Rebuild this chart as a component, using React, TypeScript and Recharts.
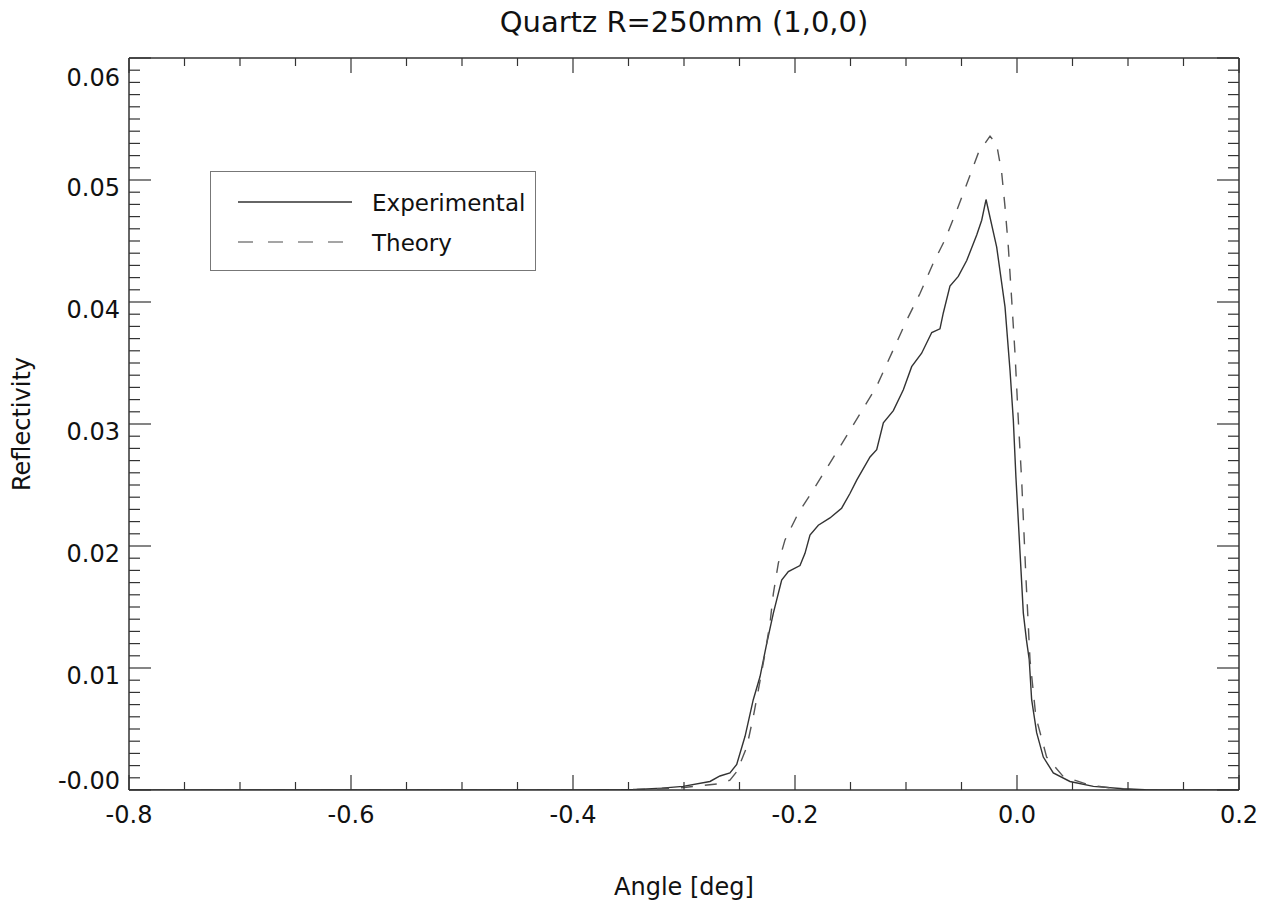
import { LineChart, Line, XAxis, YAxis } from 'recharts';

// Experimental reflectivity curve (angle in deg, reflectivity)
const expAngle = [
  -0.8, -0.5, -0.4, -0.36, -0.3426, -0.32, -0.3009, -0.2766, -0.2676, -0.2586, -0.2525, -0.245,
  -0.2376, -0.2315, -0.2255, -0.2195, -0.212, -0.206, -0.1955, -0.191, -0.1865, -0.179, -0.1685,
  -0.158, -0.1505, -0.1444, -0.1324, -0.1264, -0.1204, -0.1114, -0.1024, -0.0949, -0.0859, -0.0768,
  -0.0694, -0.0664, -0.0604, -0.0529, -0.0453, -0.0363, -0.0318, -0.0279, -0.0183, -0.0108, -0.0063,
  -0.0033, -0.001, 0.0057, 0.0085, 0.011, 0.0132, 0.0177, 0.0237, 0.0327, 0.0477, 0.0688, 0.0958,
  0.12, 0.2,
];
const expRefl = [
  0, 0, 0, 0.00002, 0.00005, 0.00015, 0.0003, 0.0007, 0.00115, 0.0014, 0.0021, 0.0044,
  0.0074, 0.0093, 0.012, 0.0145, 0.0172, 0.0179, 0.0184, 0.0194, 0.0209, 0.0217, 0.0223,
  0.0231, 0.0243, 0.0254, 0.0273, 0.0279, 0.0301, 0.0311, 0.0328, 0.0347, 0.0358, 0.0375,
  0.0378, 0.0391, 0.0413, 0.0421, 0.0434, 0.0455, 0.0467, 0.0484, 0.0445, 0.0396, 0.0344,
  0.0303, 0.0257, 0.0145, 0.0123, 0.0107, 0.0074, 0.0047, 0.0027, 0.0014, 0.0007, 0.0003, 0.0001,
  0, 0,
];

// Theory curve
const theoryAngle = [
  -0.8, -0.36, -0.33, -0.3, -0.2856, -0.27, -0.2586, -0.2525, -0.2435, -0.2376, -0.233, -0.227,
  -0.2225, -0.2195, -0.215, -0.209, -0.197, -0.1835, -0.155, -0.1264, -0.1114, -0.0994, -0.0874,
  -0.0754, -0.0649, -0.0543, -0.0439, -0.0349, -0.0243, -0.0183, -0.0138, -0.0108, -0.0078, -0.0048,
  -0.0018, 0.0012, 0.0042, 0.008, 0.0117, 0.017, 0.0267, 0.0417, 0.0658, 0.0898, 0.11, 0.2,
];
const theoryRefl = [
  0, 0, 0.00008, 0.0002, 0.00035, 0.0005, 0.0008, 0.0015, 0.0035, 0.006, 0.0082, 0.0112,
  0.0137, 0.0161, 0.0186, 0.0205, 0.0227, 0.0246, 0.0288, 0.0331, 0.0361, 0.0385, 0.0407,
  0.0432, 0.0451, 0.0475, 0.05, 0.0522, 0.0536, 0.0529, 0.0506, 0.0478, 0.0445, 0.0402,
  0.0358, 0.0303, 0.0254, 0.0175, 0.0107, 0.006, 0.0027, 0.0011, 0.0004, 0.0001, 0, 0,
];

const yTickLabels = ['-0.00', '0.01', '0.02', '0.03', '0.04', '0.05', '0.06'];
const xTickLabels = ['-0.8', '-0.6', '-0.4', '-0.2', '0.0', '0.2'];

const expData = expAngle.map((a, i) => ({ angle: a, value: expRefl[i] }));
const theoryData = theoryAngle.map((a, i) => ({ angle: a, value: theoryRefl[i] }));

// minor ticks: 0.001 on y, 0.05 on x
const yTicks = Array.from({ length: 61 }, (_, i) => i / 1000);
const xTicks = Array.from({ length: 21 }, (_, i) => -0.8 + i * 0.05);

const FONT = '"DejaVu Sans", sans-serif';
const AXIS = '#333';

const isMajorY = (v: number) => Math.abs(v * 100 - Math.round(v * 100)) < 1e-6;
const isMajorX = (v: number) => Math.abs((v + 0.8) * 5 - Math.round((v + 0.8) * 5)) < 1e-6;

function LeftTick(props: any) {
  const { x, y, payload } = props;
  const v = payload.value;
  const major = isMajorY(v);
  const idx = Math.round(v * 100);
  let dy = 8;
  if (idx === 6) dy = 20;
  if (idx === 0) dy = -9;
  return (
    <g>
      <line x1={x} x2={x + (major ? 22 : 11)} y1={y} y2={y} stroke={AXIS} strokeWidth={1.2} />
      {major && (
        <text x={x - 9} y={y + dy} textAnchor="end" dominantBaseline="central"
          fontFamily={FONT} fontSize={24} fill="#111">
          {yTickLabels[idx]}
        </text>
      )}
    </g>
  );
}

function RightTick(props: any) {
  const { x, y, payload } = props;
  const major = isMajorY(payload.value);
  return <line x1={x} x2={x - (major ? 22 : 11)} y1={y} y2={y} stroke={AXIS} strokeWidth={1.2} />;
}

function BottomTick(props: any) {
  const { x, y, payload } = props;
  const v = payload.value;
  const major = isMajorX(v);
  const idx = Math.round((v + 0.8) * 5);
  return (
    <g>
      <line x1={x} x2={x} y1={y} y2={y - (major ? 15 : 8)} stroke={AXIS} strokeWidth={1.2} />
      {major && (
        <text x={x} y={y + 25} textAnchor="middle" dominantBaseline="central"
          fontFamily={FONT} fontSize={24} fill="#111">
          {xTickLabels[idx]}
        </text>
      )}
    </g>
  );
}

function TopTick(props: any) {
  const { x, y, payload } = props;
  const major = isMajorX(payload.value);
  return <line x1={x} x2={x} y1={y} y2={y + (major ? 15 : 8)} stroke={AXIS} strokeWidth={1.2} />;
}

function LegendBox() {
  return (
    <div style={{ position: 'absolute', left: 210, top: 171, width: 324, height: 98, border: '1.5px solid #777', background: '#fff' }}>
      <svg width={324} height={98} style={{ position: 'absolute', left: 0, top: 0 }}>
        <line x1={27} x2={141} y1={30} y2={30} stroke="#333" strokeWidth={1.4} />
        <line x1={27} x2={141} y1={70} y2={70} stroke="#888" strokeWidth={1.6} strokeDasharray="15 15" />
        <text x={161} y={31} dominantBaseline="central" fontSize={23} fill="#111" fontFamily={FONT}>Experimental</text>
        <text x={161} y={71} dominantBaseline="central" fontSize={23} fill="#111" fontFamily={FONT}>Theory</text>
      </svg>
    </div>
  );
}

export default function App() {
  return (
    <div style={{ position: 'absolute', left: 0, top: 0, width: 1265, height: 907, background: '#fff' }}>
      <LineChart width={1265} height={907} margin={{ top: 0, right: 0, bottom: 0, left: 0 }}
        style={{ position: 'absolute', left: 0, top: 0 }}>
        <XAxis xAxisId="b" type="number" dataKey="angle" domain={[-0.8, 0.2]} ticks={xTicks} interval={0}
          orientation="bottom" height={117} allowDataOverflow tickSize={0} tickMargin={0}
          axisLine={{ stroke: AXIS, strokeWidth: 1.5 }} tickLine={false} tick={BottomTick} />
        <XAxis xAxisId="t" type="number" dataKey="angle" domain={[-0.8, 0.2]} ticks={xTicks} interval={0}
          orientation="top" height={58} allowDataOverflow tickSize={0} tickMargin={0}
          axisLine={{ stroke: AXIS, strokeWidth: 1.5 }} tickLine={false} tick={TopTick} />
        <YAxis yAxisId="l" type="number" domain={[0, 0.06]} ticks={yTicks} interval={0}
          orientation="left" width={129} allowDataOverflow tickSize={0} tickMargin={0}
          axisLine={{ stroke: AXIS, strokeWidth: 1.5 }} tickLine={false} tick={LeftTick} />
        <YAxis yAxisId="r" type="number" domain={[0, 0.06]} ticks={yTicks} interval={0}
          orientation="right" width={26} allowDataOverflow tickSize={0} tickMargin={0}
          axisLine={{ stroke: AXIS, strokeWidth: 1.5 }} tickLine={false} tick={RightTick} />
        <Line xAxisId="b" yAxisId="l" data={expData} dataKey="value" name="Experimental" type="linear"
          stroke="#333" strokeWidth={1.4} dot={false} isAnimationActive={false} />
        <Line xAxisId="b" yAxisId="l" data={theoryData} dataKey="value" name="Theory" type="linear"
          stroke="#555" strokeWidth={1.4} strokeDasharray="12 12" dot={false} isAnimationActive={false} />
      </LineChart>
      <LegendBox />
      <div style={{ position: 'absolute', left: 0, width: 1265, top: 4, textAlign: 'center', fontFamily: FONT, fontSize: 29, color: '#111', lineHeight: '36px' }}>
        <span style={{ marginLeft: 103 }}>Quartz R=250mm (1,0,0)</span>
      </div>
      <div style={{ position: 'absolute', left: 129, width: 1110, top: 872, textAlign: 'center', fontFamily: FONT, fontSize: 24, color: '#111', lineHeight: '30px' }}>
        Angle [deg]
      </div>
      <div style={{ position: 'absolute', left: 22, top: 424, transform: 'translate(-50%, -50%) rotate(-90deg)', fontFamily: FONT, fontSize: 24, color: '#111', whiteSpace: 'nowrap' }}>
        Reflectivity
      </div>
    </div>
  );
}
